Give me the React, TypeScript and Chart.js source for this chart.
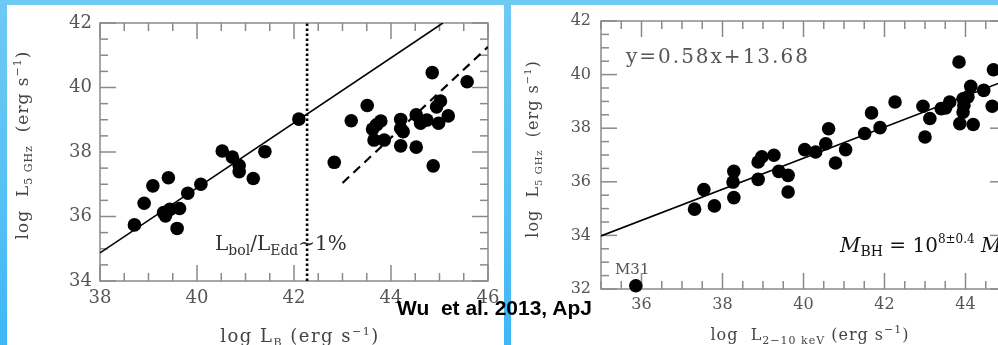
import React, { useEffect, useRef } from 'react';
import { Chart, registerables } from 'chart.js';

Chart.register(...registerables);

// ---------- Left panel: log L_B vs log L_5GHz ----------
const LEFT_LB = [38.71, 38.91, 39.09, 39.41, 39.31, 39.35, 39.44, 39.64, 39.59, 39.81, 40.08, 40.52, 40.73, 40.87, 40.87, 41.16, 41.40, 42.10,
  42.83, 43.18, 43.51, 43.62, 43.79, 43.65, 43.86, 43.70, 44.20, 44.20, 44.25, 44.20, 44.52, 44.52, 44.61, 44.74, 44.85, 44.87, 44.94, 45.02, 44.98, 45.18, 45.57];
const LEFT_L5 = [35.74, 36.41, 36.95, 37.20, 36.12, 36.02, 36.22, 36.25, 35.63, 36.72, 37.00, 38.03, 37.84, 37.58, 37.39, 37.18, 38.01, 39.02,
  37.68, 38.97, 39.44, 38.71, 38.96, 38.37, 38.37, 38.84, 39.01, 38.73, 38.63, 38.19, 39.15, 38.15, 38.89, 38.99, 40.46, 37.57, 39.40, 39.58, 38.89, 39.12, 40.18];
const LEFT_FIT_X = [38, 45.07];
const LEFT_FIT_Y = [34.87, 42];
const LEFT_DASH_X = [43, 46];
const LEFT_DASH_Y = [37.04, 41.26];
const EDD_X = [42.27, 42.27];
const EDD_Y = [34, 42];
const LEFT_XTICKS = [38, 40, 42, 44, 46];
const LEFT_YTICKS = [34, 36, 38, 40, 42];

// ---------- Right panel: log L_2-10keV vs log L_5GHz ----------
const RIGHT_LX = [37.31, 37.54, 37.80, 38.28, 38.26, 38.28, 38.88, 38.88, 38.97, 39.27, 39.39, 39.62, 39.62, 40.03, 40.30, 40.55, 40.62, 40.79, 41.04, 41.51, 41.68, 41.89, 42.26,
  42.95, 43.12, 43.00, 43.40, 43.51, 43.61, 43.84, 43.94, 44.06, 43.96, 43.94, 43.86, 44.19, 44.13, 44.45, 44.69, 44.66];
const RIGHT_L5 = [34.98, 35.71, 35.10, 36.39, 35.99, 35.41, 36.09, 36.74, 36.93, 36.99, 36.39, 36.24, 35.62, 37.20, 37.11, 37.42, 37.98, 36.70, 37.20, 37.80, 38.57, 38.02, 38.98,
  38.82, 38.36, 37.67, 38.73, 38.76, 38.98, 40.47, 39.10, 39.17, 38.86, 38.60, 38.17, 38.14, 39.56, 39.41, 40.18, 38.82];
const M31_X = [35.86];
const M31_Y = [32.12];
const RIGHT_FIT_X = [35, 45];
const RIGHT_FIT_Y = [33.98, 39.78]; // y = 0.58x + 13.68
const RIGHT_XTICKS = [36, 38, 40, 42, 44];
const RIGHT_YTICKS = [32, 34, 36, 38, 40, 42];

const SERIF = 'DejaVu Serif';

type Seg = { t: string; size: number; dy?: number; italic?: boolean };

function drawRich(
  ctx: CanvasRenderingContext2D,
  segs: Seg[],
  x: number,
  y: number,
  o: { align?: 'left' | 'center'; color?: string; rotate?: number; spacing?: number }
) {
  ctx.save();
  ctx.translate(x, y);
  if (o.rotate) ctx.rotate(o.rotate);
  ctx.fillStyle = o.color || '#333';
  ctx.textBaseline = 'alphabetic';
  ctx.textAlign = 'left';
  (ctx as any).letterSpacing = (o.spacing || 0) + 'px';
  const fontOf = (s: Seg) => `${s.italic ? 'italic ' : ''}${s.size}px "${SERIF}"`;
  let total = 0;
  const widths = segs.map((s) => {
    ctx.font = fontOf(s);
    const w = ctx.measureText(s.t).width;
    total += w;
    return w;
  });
  let cx = o.align === 'center' ? -total / 2 : 0;
  segs.forEach((s, i) => {
    ctx.font = fontOf(s);
    ctx.fillText(s.t, cx, s.dy || 0);
    cx += widths[i];
  });
  ctx.restore();
}

function framePlugin(cfg: { step: number; major: number; majorLen: number; minorLen: number; color: string }) {
  return {
    id: 'frameTicks',
    beforeDatasetsDraw(chart: any) {
      const { ctx, chartArea: a, scales } = chart;
      const xs = scales.x;
      const ys = scales.y;
      ctx.save();
      ctx.strokeStyle = cfg.color;
      ctx.lineWidth = 1.5;
      ctx.strokeRect(a.left, a.top, a.right - a.left, a.bottom - a.top);
      const seg = (x1: number, y1: number, x2: number, y2: number) => {
        ctx.beginPath();
        ctx.moveTo(x1, y1);
        ctx.lineTo(x2, y2);
        ctx.stroke();
      };
      const isMajor = (v: number) => Math.abs(v / cfg.major - Math.round(v / cfg.major)) < 1e-6;
      for (let v = Math.ceil(xs.min / cfg.step) * cfg.step; v <= xs.max + 1e-9; v += cfg.step) {
        const p = xs.getPixelForValue(v);
        const len = isMajor(v) ? cfg.majorLen : cfg.minorLen;
        seg(p, a.bottom, p, a.bottom - len);
        seg(p, a.top, p, a.top + len);
      }
      for (let v = Math.ceil(ys.min / cfg.step) * cfg.step; v <= ys.max + 1e-9; v += cfg.step) {
        const p = ys.getPixelForValue(v);
        const len = isMajor(v) ? cfg.majorLen : cfg.minorLen;
        seg(a.left, p, a.left + len, p);
        seg(a.right, p, a.right - len, p);
      }
      ctx.restore();
    },
  };
}

const pts = (xs: number[], ys: number[]) => xs.map((x, i) => ({ x, y: ys[i] }));

function axisScale(min: number, max: number, tickVals: number[], size: number, isY: boolean, fontSize: number, pad: number) {
  return {
    type: 'linear' as const,
    min,
    max,
    grid: { display: false, drawTicks: false },
    border: { display: false },
    afterBuildTicks: (s: any) => {
      s.ticks = tickVals.map((v) => ({ value: v }));
    },
    afterFit: (s: any) => {
      if (isY) {
        s.width = size;
        s.paddingTop = 0;
        s.paddingBottom = 0;
      } else {
        s.height = size;
        s.paddingLeft = 0;
        s.paddingRight = 0;
      }
    },
    ticks: {
      autoSkip: false,
      maxRotation: 0,
      minRotation: 0,
      padding: pad,
      color: '#555',
      font: { family: SERIF, size: fontSize },
      callback: (v: any) => String(v),
    },
  };
}

export default function App() {
  const leftRef = useRef<HTMLCanvasElement>(null);
  const rightRef = useRef<HTMLCanvasElement>(null);

  useEffect(() => {
    const common = {
      animation: false as const,
      responsive: false,
      devicePixelRatio: 1,
      plugins: { legend: { display: false }, tooltip: { enabled: false } },
      events: [] as any[],
    };

    const left = new Chart(leftRef.current!, {
      type: 'scatter',
      data: {
        datasets: [
          {
            data: pts(LEFT_FIT_X, LEFT_FIT_Y),
            showLine: true,
            borderColor: '#000',
            borderWidth: 1.6,
            pointRadius: 0,
          },
          {
            data: pts(LEFT_DASH_X, LEFT_DASH_Y),
            showLine: true,
            borderColor: '#000',
            borderWidth: 2.2,
            borderDash: [9, 6],
            pointRadius: 0,
          },
          {
            data: pts(EDD_X, EDD_Y),
            showLine: true,
            borderColor: '#000',
            borderWidth: 2.6,
            borderDash: [2.5, 2.5],
            pointRadius: 0,
          },
          {
            data: pts(LEFT_LB, LEFT_L5),
            backgroundColor: '#000',
            borderWidth: 0,
            pointRadius: 6.8,
            clip: false as any,
          },
        ],
      },
      options: {
        ...common,
        layout: { padding: { left: 0, right: 16, top: 18, bottom: 0 } },
        scales: {
          x: axisScale(38, 46, LEFT_XTICKS, 64, false, 18, 7),
          y: axisScale(34, 42, LEFT_YTICKS, 93, true, 18, 8),
        },
      } as any,
      plugins: [
        framePlugin({ step: 0.5, major: 2, majorLen: 16, minorLen: 8, color: '#8a8a8a' }),
        {
          id: 'notesLeft',
          afterDraw(chart: any) {
            const ctx = chart.ctx;
            drawRich(
              ctx,
              [
                { t: 'log L', size: 18 },
                { t: 'B', size: 11, dy: 4 },
                { t: ' (erg s', size: 18 },
                { t: '−1', size: 11, dy: -7 },
                { t: ')', size: 18 },
              ],
              293,
              337,
              { align: 'center', color: '#444', spacing: 1.5 }
            );
            drawRich(
              ctx,
              [
                { t: 'log  L', size: 17 },
                { t: '5 GHz', size: 11, dy: 4 },
                { t: '  (erg s', size: 17 },
                { t: '−1', size: 11, dy: -7 },
                { t: ')', size: 17 },
              ],
              21,
              140,
              { align: 'center', color: '#444', rotate: -Math.PI / 2, spacing: 1 }
            );
            drawRich(
              ctx,
              [
                { t: 'L', size: 20 },
                { t: 'bol', size: 14, dy: 5 },
                { t: '/L', size: 20 },
                { t: 'Edd', size: 14, dy: 5 },
                { t: '∼1%', size: 20 },
              ],
              208,
              245,
              { align: 'left', color: '#333' }
            );
          },
        },
      ],
    });

    const right = new Chart(rightRef.current!, {
      type: 'scatter',
      data: {
        datasets: [
          {
            data: pts(RIGHT_FIT_X, RIGHT_FIT_Y),
            showLine: true,
            borderColor: '#000',
            borderWidth: 1.6,
            pointRadius: 0,
          },
          {
            data: pts(RIGHT_LX, RIGHT_L5),
            backgroundColor: '#000',
            borderWidth: 0,
            pointRadius: 6.8,
            clip: false as any,
          },
          {
            data: pts(M31_X, M31_Y),
            backgroundColor: '#000',
            borderWidth: 0,
            pointRadius: 6.8,
            clip: false as any,
          },
        ],
      },
      options: {
        ...common,
        layout: { padding: { left: 0, right: 25, top: 16, bottom: 0 } },
        scales: {
          x: axisScale(35, 45, RIGHT_XTICKS, 56, false, 16, 6),
          y: axisScale(32, 42, RIGHT_YTICKS, 90, true, 16, 10),
        },
      } as any,
      plugins: [
        framePlugin({ step: 0.5, major: 2, majorLen: 16, minorLen: 8, color: '#8a8a8a' }),
        {
          id: 'notesRight',
          afterDraw(chart: any) {
            const ctx = chart.ctx;
            drawRich(
              ctx,
              [
                { t: 'log  L', size: 16 },
                { t: '2−10 keV', size: 11, dy: 4 },
                { t: ' (erg s', size: 16 },
                { t: '−1', size: 11, dy: -7 },
                { t: ')', size: 16 },
              ],
              299,
              335,
              { align: 'center', color: '#444', spacing: 1 }
            );
            drawRich(
              ctx,
              [
                { t: 'log  L', size: 16 },
                { t: '5 GHz', size: 10, dy: 4 },
                { t: '  (erg s', size: 16 },
                { t: '−1', size: 10, dy: -7 },
                { t: ')', size: 16 },
              ],
              27,
              144,
              { align: 'center', color: '#444', rotate: -Math.PI / 2, spacing: 1 }
            );
            drawRich(ctx, [{ t: 'y=0.58x+13.68', size: 20 }], 115, 58, { align: 'left', color: '#555', spacing: 2 });
            drawRich(ctx, [{ t: 'M31', size: 15 }], 104, 269, { align: 'left', color: '#555' });
            drawRich(
              ctx,
              [
                { t: 'M', size: 20, italic: true },
                { t: 'BH', size: 14, dy: 4 },
                { t: ' = 10', size: 20 },
                { t: '8±0.4', size: 12, dy: -9 },
                { t: ' M', size: 20, italic: true },
                { t: '⊙', size: 13, dy: 4 },
              ],
              329,
              247,
              { align: 'left', color: '#111' }
            );
          },
        },
      ],
    });

    return () => {
      left.destroy();
      right.destroy();
    };
  }, []);

  return (
    <div
      style={{
        position: 'fixed',
        left: 0,
        top: 0,
        width: 998,
        height: 345,
        overflow: 'hidden',
        background: 'linear-gradient(180deg, #6fc9f3 0%, #55c0f4 60%, #3db7f6 100%)',
      }}
    >
      <div style={{ position: 'absolute', left: 7, top: 5, width: 497, height: 340, background: '#fff' }}>
        <canvas ref={leftRef} width={497} height={340} style={{ display: 'block', width: 497, height: 340 }} />
      </div>
      <div style={{ position: 'absolute', left: 511, top: 5, width: 520, height: 340, background: '#fff' }}>
        <canvas ref={rightRef} width={520} height={340} style={{ display: 'block', width: 520, height: 340 }} />
      </div>
      <div
        style={{
          position: 'absolute',
          left: 397,
          top: 297,
          fontFamily: '"Liberation Sans", Arial, sans-serif',
          fontWeight: 'bold',
          fontSize: 21,
          lineHeight: '21px',
          whiteSpace: 'pre',
          color: '#000',
        }}
      >
        Wu  et al. 2013, ApJ
      </div>
    </div>
  );
}
